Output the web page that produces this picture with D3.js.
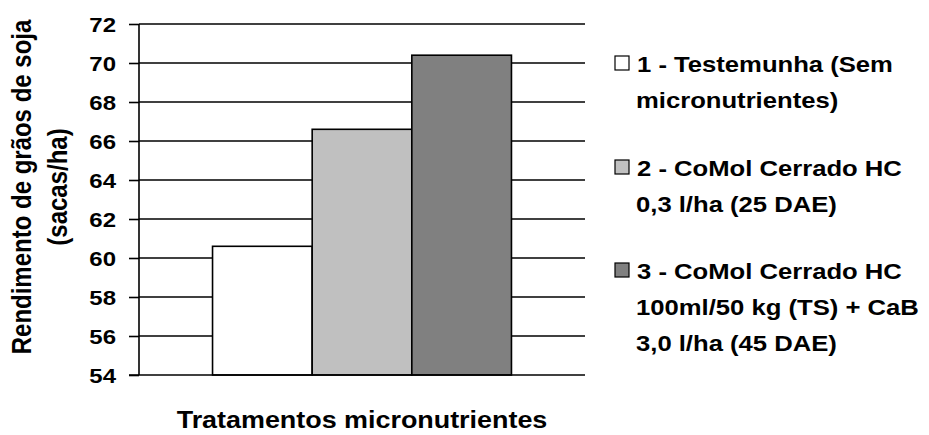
<!DOCTYPE html>
<html><head><meta charset="utf-8">
<script src="https://cdn.jsdelivr.net/npm/d3@7"></script>
<style>body{margin:0;background:#fff}svg{display:block}text{font-family:"Liberation Sans",Arial,sans-serif;font-weight:bold;fill:#000}</style>
</head><body><svg id="c" width="929" height="435"></svg>
<script>
const categories = ["1", "2", "3"];
const values = [60.6, 66.6, 70.4];
const colors = ["#ffffff", "#c0c0c0", "#808080"];
const legendLabels = [
  ["1 - Testemunha (Sem", "micronutrientes)"],
  ["2 - CoMol Cerrado HC", "0,3 l/ha (25 DAE)"],
  ["3 - CoMol Cerrado HC", "100ml/50 kg (TS) + CaB", "3,0 l/ha (45 DAE)"]
];
const yTicks = [54, 56, 58, 60, 62, 64, 66, 68, 70, 72];
const yTitle = ["Rendimento de grãos de soja", "(sacas/ha)"];
const xTitle = "Tratamentos micronutrientes";

const SX = 1.17;
const svg = d3.select("#c");
const L = 139, R = 585, T = 24, B = 375;
const y = d3.scaleLinear().domain([54, 72]).range([B, T]);
const groupX = d3.scaleBand().domain(["g"]).range([L, R]).paddingInner(0).paddingOuter(0.246);
const x = d3.scaleBand().domain(categories).range([groupX("g"), groupX("g") + groupX.bandwidth()]).padding(0);

// gridlines
svg.append("g").selectAll("line").data(yTicks.slice(1)).join("line")
  .attr("x1", L).attr("x2", R).attr("y1", d => y(d)).attr("y2", d => y(d))
  .attr("stroke", "#000").attr("stroke-width", 1.6);

// bars
svg.append("g").selectAll("rect").data(values).join("rect")
  .attr("x", (d, i) => x(categories[i])).attr("width", x.bandwidth())
  .attr("y", d => y(d)).attr("height", d => B - y(d))
  .attr("fill", (d, i) => colors[i]).attr("stroke", "#000").attr("stroke-width", 1.6);

// y axis
const yAxis = d3.axisLeft(y).tickValues(yTicks).tickSize(10).tickPadding(13).tickFormat(d3.format("d"));
const ga = svg.append("g").attr("transform", `translate(${L},0)`).call(yAxis);
ga.select(".domain").attr("stroke", "#000").attr("stroke-width", 1.6).attr("d", `M0,${T}V${B}`);
ga.selectAll(".tick line").attr("stroke", "#000").attr("stroke-width", 1.6);
ga.selectAll(".tick text")
  .attr("font-size", 20.5).attr("font-family", '"Liberation Sans",Arial,sans-serif')
  .attr("font-weight", "bold").attr("fill", "#000")
  .attr("dy", null).attr("y", 7.5)
  .attr("transform", `translate(-23,0) scale(${SX},1)`).attr("x", 0);

// x baseline
svg.append("line").attr("x1", L - 10).attr("x2", R).attr("y1", B).attr("y2", B).attr("stroke", "#000").attr("stroke-width", 1.6);

// y title
const yTitleX = [31, 67];
yTitle.forEach((t, i) => {
  svg.append("text").attr("transform", `translate(${yTitleX[i]},187) rotate(-90) scale(1,1.12)`)
    .attr("text-anchor", "middle").attr("font-size", 24).text(t);
});
// x title
svg.append("text").attr("transform", `translate(${(L + R) / 2},428) scale(${SX},1)`)
  .attr("text-anchor", "middle").attr("font-size", 23).text(xTitle);

// legend
const legendY = [63, 167, 270];
const LSX = 1.14;
legendLabels.forEach((lines, i) => {
  const g = svg.append("g").attr("transform", `translate(615,${legendY[i]})`);
  g.append("rect").attr("x", 0).attr("y", -7).attr("width", 14).attr("height", 14)
    .attr("fill", colors[i]).attr("stroke", "#000").attr("stroke-width", 1.2);
  lines.forEach((ln, j) => {
    g.append("text").attr("transform", `translate(${j === 0 ? 22 : 21},${j * 36 + 8.5}) scale(${LSX},1)`)
      .attr("font-size", 22.5).text(ln);
  });
});
</script></body></html>
